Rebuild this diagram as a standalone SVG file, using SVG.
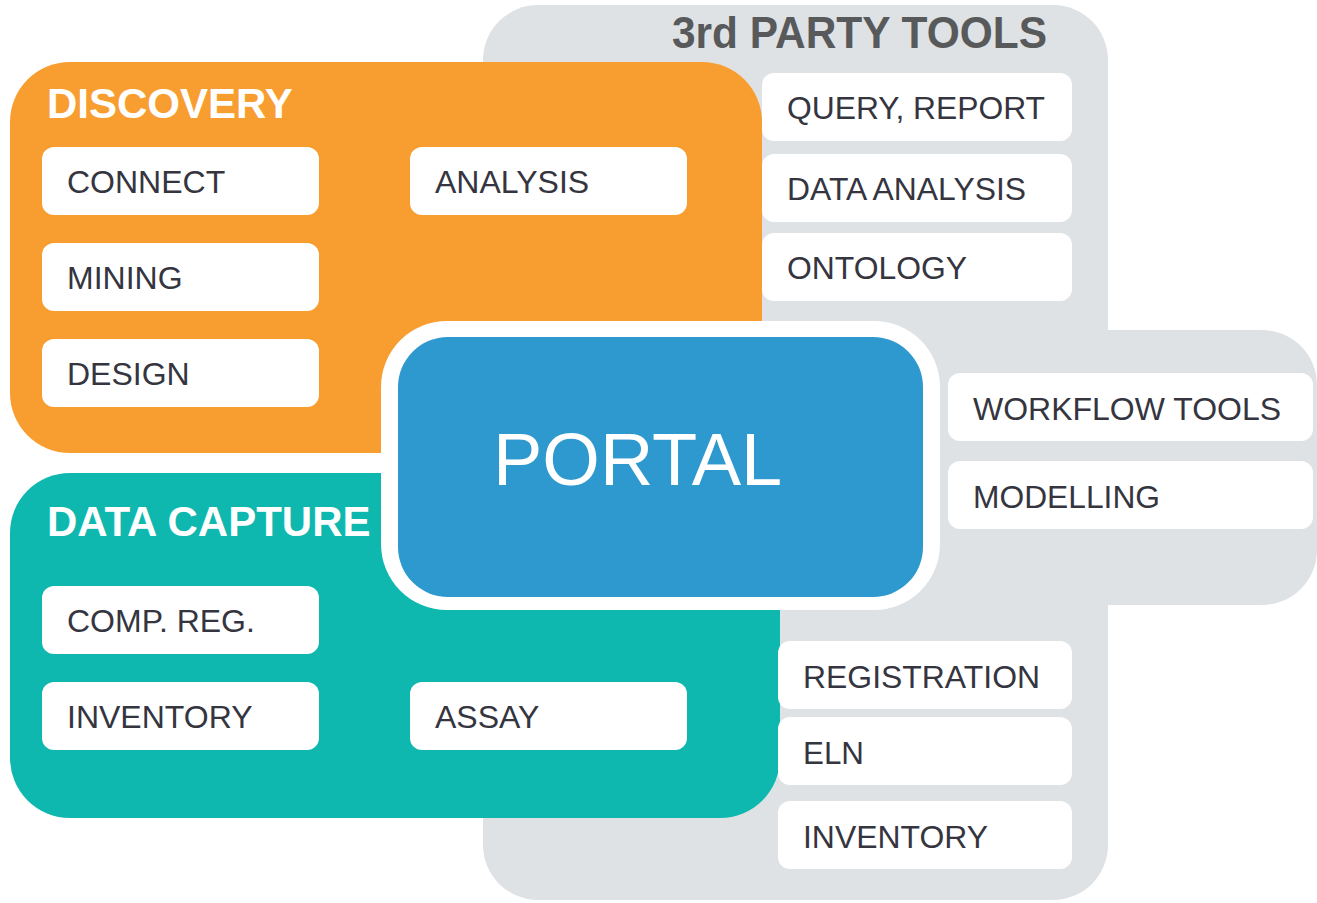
<svg xmlns="http://www.w3.org/2000/svg" width="1317" height="903" viewBox="0 0 1317 903">
<style>
.box{fill:#ffffff}
.t{font-family:"Liberation Sans",Arial,sans-serif;font-size:32px;fill:#35353F}
.h{font-family:"Liberation Sans",Arial,sans-serif;font-size:42px;font-weight:bold;fill:#ffffff}
.gray{fill:#DFE2E5}
</style>
<rect width="1317" height="903" fill="#ffffff"/>
<g id="third-party">
<rect class="gray" x="483" y="5" width="625" height="895" rx="55"/>
<rect class="gray" x="1000" y="330" width="317" height="275" rx="55"/>
<text x="672" y="48" font-family="'Liberation Sans',Arial,sans-serif" font-size="44" font-weight="bold" fill="#58595B" textLength="375" lengthAdjust="spacingAndGlyphs">3rd PARTY TOOLS</text>
</g>
<g id="discovery">
<rect x="10" y="62" width="752" height="391" rx="60" fill="#F89E31"/>
<text class="h" x="47" y="118">DISCOVERY</text>
</g>
<g id="data-capture">
<rect x="10" y="473" width="770" height="345" rx="60" fill="#0EB8AF"/>
<text class="h" x="47" y="536">DATA CAPTURE</text>
</g>
<g id="query-report"><rect class="box" x="762" y="73" width="310" height="68" rx="12"/><text class="t" x="787" y="119" textLength="258" lengthAdjust="spacingAndGlyphs">QUERY, REPORT</text></g>
<g id="data-analysis"><rect class="box" x="762" y="154" width="310" height="68" rx="12"/><text class="t" x="787" y="200" textLength="239" lengthAdjust="spacingAndGlyphs">DATA ANALYSIS</text></g>
<g id="ontology"><rect class="box" x="762" y="233" width="310" height="68" rx="12"/><text class="t" x="787" y="279" textLength="180" lengthAdjust="spacingAndGlyphs">ONTOLOGY</text></g>
<g id="workflow-tools"><rect class="box" x="948" y="373" width="365" height="68" rx="12"/><text class="t" x="973" y="420" textLength="308" lengthAdjust="spacingAndGlyphs">WORKFLOW TOOLS</text></g>
<g id="modelling"><rect class="box" x="948" y="461" width="365" height="68" rx="12"/><text class="t" x="973" y="508" textLength="187" lengthAdjust="spacingAndGlyphs">MODELLING</text></g>
<g id="registration"><rect class="box" x="778" y="641" width="294" height="68" rx="12"/><text class="t" x="803" y="688" textLength="237" lengthAdjust="spacingAndGlyphs">REGISTRATION</text></g>
<g id="eln"><rect class="box" x="778" y="717" width="294" height="68" rx="12"/><text class="t" x="803" y="764" textLength="61" lengthAdjust="spacingAndGlyphs">ELN</text></g>
<g id="inventory-3p"><rect class="box" x="778" y="801" width="294" height="68" rx="12"/><text class="t" x="803" y="848" textLength="185" lengthAdjust="spacingAndGlyphs">INVENTORY</text></g>
<g id="connect"><rect class="box" x="42" y="147" width="277" height="68" rx="12"/><text class="t" x="67" y="193">CONNECT</text></g>
<g id="analysis"><rect class="box" x="410" y="147" width="277" height="68" rx="12"/><text class="t" x="435" y="193">ANALYSIS</text></g>
<g id="mining"><rect class="box" x="42" y="243" width="277" height="68" rx="12"/><text class="t" x="67" y="289">MINING</text></g>
<g id="design"><rect class="box" x="42" y="339" width="277" height="68" rx="12"/><text class="t" x="67" y="385">DESIGN</text></g>
<g id="comp-reg"><rect class="box" x="42" y="586" width="277" height="68" rx="12"/><text class="t" x="67" y="632">COMP. REG.</text></g>
<g id="inventory"><rect class="box" x="42" y="682" width="277" height="68" rx="12"/><text class="t" x="67" y="728">INVENTORY</text></g>
<g id="assay"><rect class="box" x="410" y="682" width="277" height="68" rx="12"/><text class="t" x="435" y="728">ASSAY</text></g>
<g id="portal">
<rect x="381" y="321" width="559" height="289" rx="66" fill="#ffffff"/>
<rect x="398" y="337" width="525" height="260" rx="50" fill="#2E99CE"/>
<text x="493" y="485" font-family="'Liberation Sans',Arial,sans-serif" font-size="74" fill="#ffffff">PORTAL</text>
</g>
<g id="connectors"/>
</svg>
